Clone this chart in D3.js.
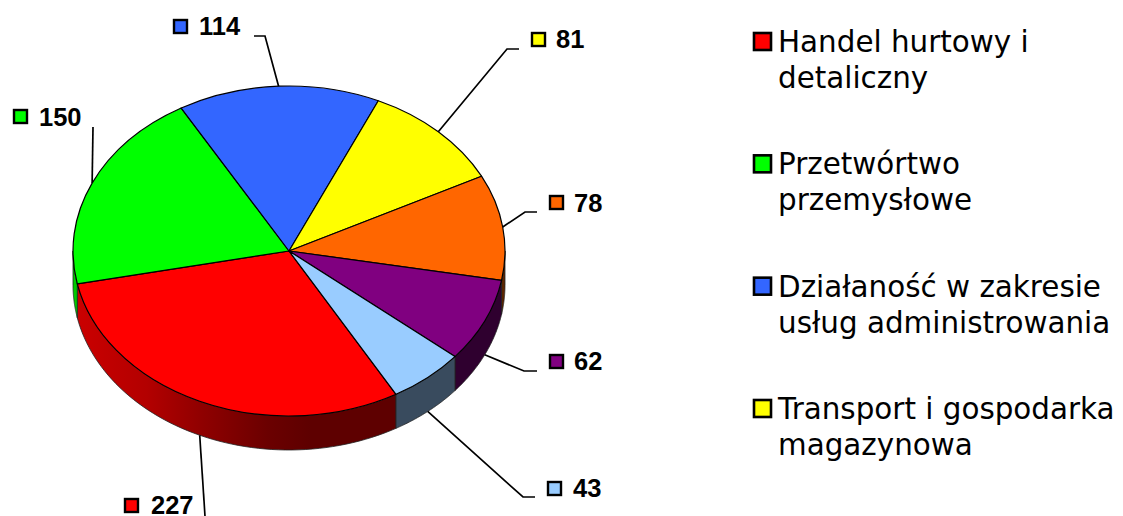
<!DOCTYPE html>
<html>
<head>
<meta charset="utf-8">
<script src="https://cdn.jsdelivr.net/npm/d3@7"></script>
<style>
    html, body { margin: 0; padding: 0; background: #fff; overflow: hidden; }
    svg { display: block; }
</style>
</head>
<body>
<script>
var values = [227, 150, 114, 81, 78, 62, 43];
var colors = ["#ff0000", "#00ff00", "#3366ff", "#ffff00", "#ff6600", "#800080", "#99ccff"];
var legendLines = [
    ["Handel hurtowy i", "detaliczny"],
    ["Przetwórtwo", "przemysłowe"],
    ["Działaność w zakresie", "usług administrowania"],
    ["Transport i gospodarka", "magazynowa"]
];

var width = 1123, height = 516;
var cx = 289, cy = 251, rx = 216, ry = 165, depth = 34;
var startAngle = 150.3 * Math.PI / 180;

// label placement, same order as values: swatch corner, text start, baseline, leader bend and end
var labelLayout = [
    {sx: 125, sy: 499, tx: 151, ty: 514, leader: [[205, 516]], wall: true},
    {sx: 14, sy: 110, tx: 39, ty: 126, leader: [[93, 127]]},
    {sx: 174, sy: 20, tx: 199, ty: 35, leader: [[265, 36], [254, 36]]},
    {sx: 532, sy: 33, tx: 556, ty: 48, leader: [[507, 49], [519, 49]]},
    {sx: 550, sy: 196, tx: 574, ty: 212, leader: [[525, 212], [537, 212]]},
    {sx: 550, sy: 355, tx: 574, ty: 370, leader: [[524, 371], [537, 371]], wall: true},
    {sx: 548, sy: 482, tx: 573, ty: 497, leader: [[523, 497], [535, 497]], wall: true}
];

var svg = d3.select("body").append("svg")
    .attr("width", width)
    .attr("height", height);
var defs = svg.append("defs");

var arcs = d3.pie().sort(null)
    .startAngle(startAngle)
    .endAngle(startAngle + 2 * Math.PI)(values);

function pointAt(angle, dy) {
    return [cx + rx * Math.sin(angle), cy - ry * Math.cos(angle) + (dy || 0)];
}

// shade of the side wall, lighter on the left and dark from the front on
var wallShade = [[0, 0.8], [0.17, 0.7], [0.3, 0.56], [0.45, 0.42], [0.55, 0.37], [1, 0.37]];

arcs.forEach(function(d, i) {
    var grad = defs.append("linearGradient")
        .attr("id", "wall" + i)
        .attr("gradientUnits", "userSpaceOnUse")
        .attr("x1", cx - rx).attr("x2", cx + rx)
        .attr("y1", 0).attr("y2", 0);
    var base = d3.rgb(colors[i]);
    wallShade.forEach(function(s) {
        grad.append("stop")
            .attr("offset", s[0])
            .attr("stop-color", d3.rgb(base.r * s[1], base.g * s[1], base.b * s[1]).formatHex());
    });
});

// side walls: only the part of each slice that lies on the lower half of the ellipse
var line = d3.line();
var walls = svg.append("g");
arcs.forEach(function(d, i) {
    [0, 2 * Math.PI].forEach(function(turn) {
        var a0 = Math.max(d.startAngle, Math.PI / 2 + turn);
        var a1 = Math.min(d.endAngle, 3 * Math.PI / 2 + turn);
        if (a1 <= a0) return;
        var top = d3.range(0, 61).map(function(k) {
            return pointAt(a0 + (a1 - a0) * k / 60);
        });
        var bottom = d3.range(60, -1, -1).map(function(k) {
            return pointAt(a0 + (a1 - a0) * k / 60, depth);
        });
        walls.append("path")
            .attr("d", line(top.concat(bottom)) + "Z")
            .attr("fill", "url(#wall" + i + ")")
            .attr("stroke", "#222")
            .attr("stroke-width", 0.8)
            .attr("stroke-linejoin", "round");
    });
});

// top face
var arcGen = d3.arc().innerRadius(0).outerRadius(rx);
svg.append("g")
    .attr("transform", "translate(" + cx + "," + cy + ") scale(1," + (ry / rx) + ")")
    .selectAll("path")
    .data(arcs)
    .enter()
    .append("path")
    .attr("d", arcGen)
    .attr("fill", function(d, i) { return colors[i]; })
    .attr("stroke", "#000")
    .attr("stroke-width", 1.2)
    .attr("stroke-linejoin", "round")
    .attr("vector-effect", "non-scaling-stroke");

// leaders start at the middle of each slice's rim
svg.append("g")
    .selectAll("path")
    .data(arcs)
    .enter()
    .append("path")
    .attr("d", function(d, i) {
        var mid = (d.startAngle + d.endAngle) / 2;
        var layout = labelLayout[i];
        return line([pointAt(mid, layout.wall ? depth : 0)].concat(layout.leader));
    })
    .attr("fill", "none")
    .attr("stroke", "#000")
    .attr("stroke-width", 1.7);

// value labels
var labels = svg.append("g").selectAll("g")
    .data(arcs)
    .enter()
    .append("g");
labels.append("rect")
    .attr("x", function(d, i) { return labelLayout[i].sx; })
    .attr("y", function(d, i) { return labelLayout[i].sy; })
    .attr("width", 13)
    .attr("height", 13)
    .attr("fill", function(d, i) { return colors[i]; })
    .attr("stroke", "#000")
    .attr("stroke-width", 2.4);
labels.append("text")
    .attr("x", function(d, i) { return labelLayout[i].tx; })
    .attr("y", function(d, i) { return labelLayout[i].ty; })
    .attr("font-family", "'Liberation Sans', Arial, sans-serif")
    .attr("font-weight", "bold")
    .attr("font-size", 25.5)
    .attr("fill", "#000")
    .text(function(d) { return d.value; });

// legend
var legendY = d3.scalePoint().domain(d3.range(legendLines.length)).range([52, 419]);
var legend = svg.append("g").selectAll("g")
    .data(legendLines)
    .enter()
    .append("g");
legend.append("rect")
    .attr("x", 754)
    .attr("y", function(d, i) { return legendY(i) - 19; })
    .attr("width", 17)
    .attr("height", 17)
    .attr("fill", function(d, i) { return colors[i]; })
    .attr("stroke", "#000")
    .attr("stroke-width", 2.6);
legend.selectAll("text")
    .data(function(d, i) {
        return d.map(function(t, k) { return {text: t, y: legendY(i) + k * 36}; });
    })
    .enter()
    .append("text")
    .attr("x", 778)
    .attr("y", function(d) { return d.y; })
    .attr("font-family", "'DejaVu Sans', Verdana, sans-serif")
    .attr("font-size", 29.4)
    .attr("fill", "#000")
    .text(function(d) { return d.text; });
</script>
</body>
</html>
